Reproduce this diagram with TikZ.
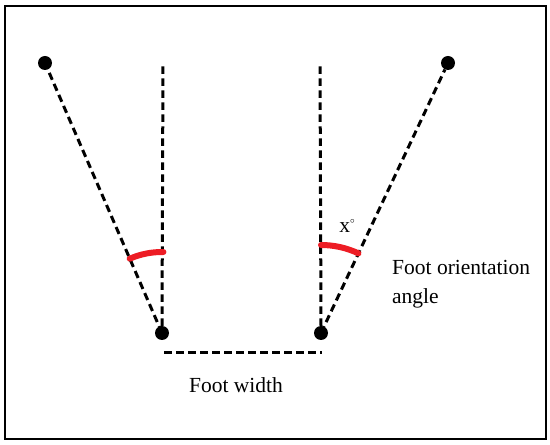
\documentclass[tikz,border=0pt]{standalone}
\usepackage{fontspec}
\setmainfont{Liberation Serif}
\usepackage{tikz}
\definecolor{arcred}{RGB}{237,28,36}

\begin{document}
\begin{tikzpicture}[x=1pt,y=1pt,
    dot/.style={fill,circle,inner sep=0pt,minimum size=14pt},
    dashline/.style={line width=3pt,dash pattern=on 7.5pt off 4.5pt},
    anglearc/.style={line width=6pt,color=arcred,line cap=round},
    lbl/.style={font=\fontsize{21.5}{29}\selectfont,inner sep=0pt}]

\useasboundingbox (0,0) rectangle (550,445);
\draw[line width=1.2pt] (5,6) rectangle (546,439);

      \foreach \n/\x/\y in {lt/45/382,lb/162/112,rb/321/112,rt/448/382}
        {\node[dot] (\n) at (\x,\y) {};}

\coordinate (lv) at (163,383);
\coordinate (rv) at (320,382);
\coordinate (fw1) at (164,92);
\coordinate (fw2) at (322,92);

        \draw[dashline] (lb.center) -- (lt);
        \draw[dashline] (lb.north) -- (lv);
        \draw[dashline] (rb.north) -- (rv);
        \draw[dashline] (rb.center) -- (rt);
        \draw[dashline] (fw1) -- (fw2);

        \draw[anglearc] ([shift={(113.5:81)}]lb.center) arc[start angle=113.5, end angle=89, radius=81];
        \draw[anglearc] ([shift={(90:88)}]rb.center) arc[start angle=90, end angle=64.8, radius=88];

\node[lbl] (deg) at (347,219) {x\raisebox{0.9ex}{\fontsize{9}{9}\selectfont$\circ$}};
\node[lbl,anchor=west,align=left] (fo) at (392,161) {Foot orientation\\angle};
\node[lbl] (fw) at (236,60) {Foot width};
\end{tikzpicture}
\end{document}
